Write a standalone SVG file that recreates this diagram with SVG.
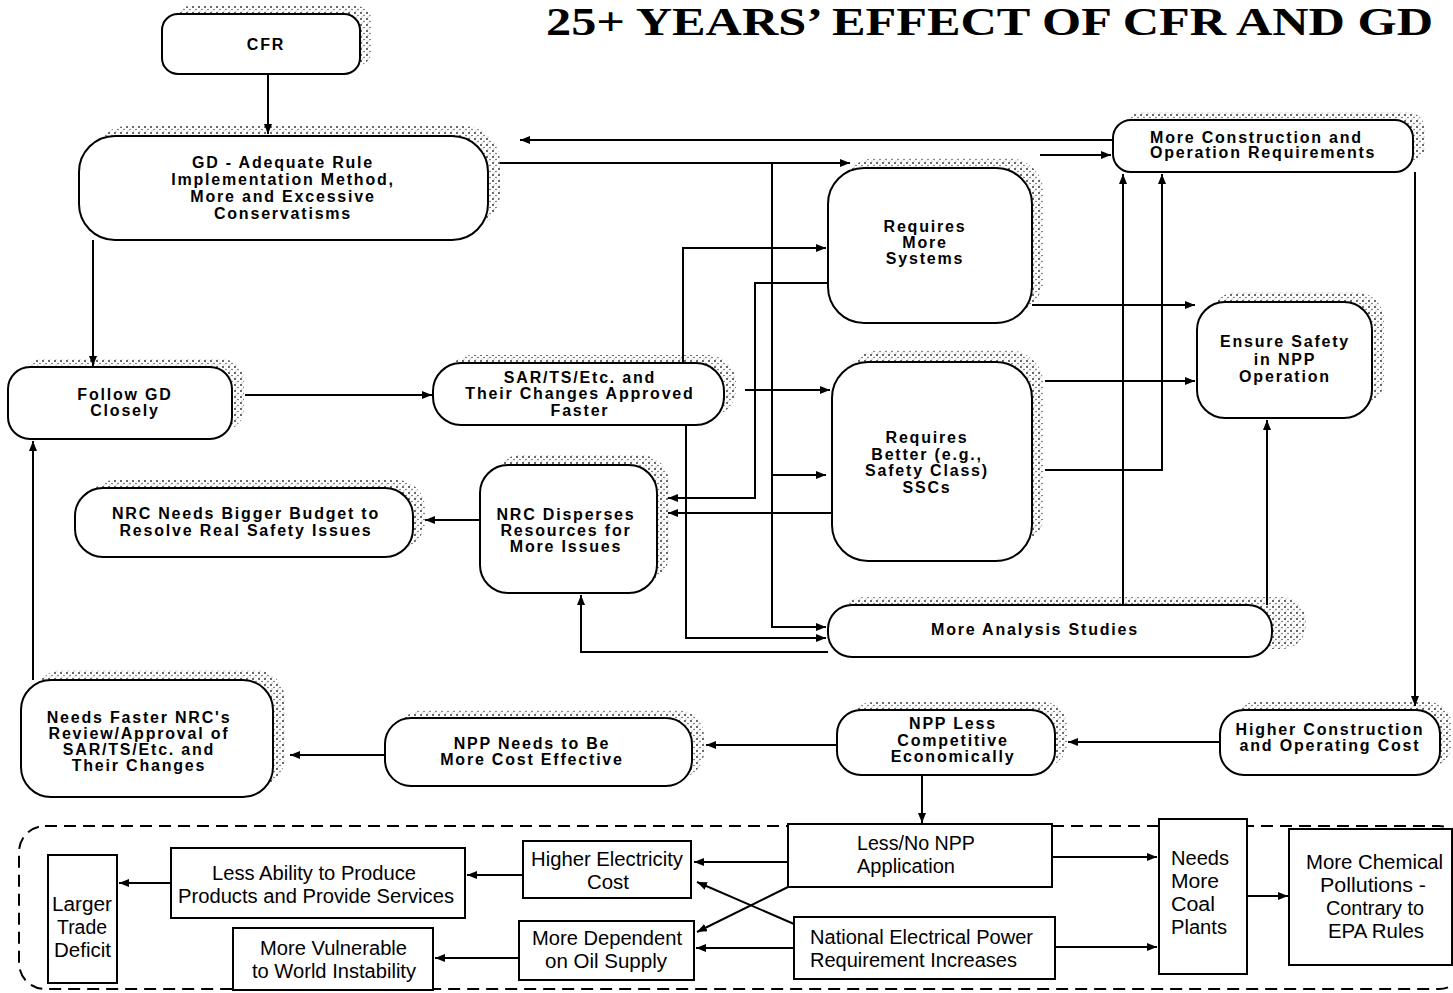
<svg xmlns="http://www.w3.org/2000/svg" width="1453" height="993" viewBox="0 0 1453 993">
<defs>
<pattern id="st" width="6" height="6" patternUnits="userSpaceOnUse">
<rect width="6" height="6" fill="#fff"/>
<circle cx="1" cy="1" r="0.9" fill="#222"/>
<circle cx="4" cy="3.5" r="0.8" fill="#555"/>
<circle cx="2" cy="5" r="0.6" fill="#888"/>
</pattern>
<marker id="a" viewBox="0 0 10 8" refX="10" refY="4" markerWidth="10" markerHeight="8" markerUnits="userSpaceOnUse" orient="auto">
<path d="M0,0 L10,4 L0,8 Z" fill="#000"/>
</marker>
<style>
.sh{fill:url(#st);stroke:none}
.nd{fill:#fff;stroke:#000;stroke-width:2}
.bx{fill:#fff;stroke:#000;stroke-width:2}
.t{font-family:"Liberation Sans",Arial,sans-serif;font-size:16px;font-weight:bold;letter-spacing:1.8px;text-anchor:middle;fill:#000}
.tl{text-anchor:start}
.c{font-family:"Liberation Sans",Arial,sans-serif;font-size:19.5px;fill:#000}
.cn path{fill:none;stroke:#000;stroke-width:2;marker-end:url(#a)}
.title{font-family:"Liberation Serif","Times New Roman",serif;font-size:40px;font-weight:bold;fill:#000}
</style>
</defs>
<rect width="1453" height="993" fill="#fff"/>
<text class="title" x="546" y="35" textLength="887" lengthAdjust="spacingAndGlyphs">25+ YEARS’ EFFECT OF CFR AND GD</text>

<g id="cfr">
<rect class="sh" x="174" y="6" width="198" height="60" rx="16"/>
<rect class="nd" x="162" y="14" width="198" height="60" rx="16"/>
<text class="t" x="266" y="50">CFR</text>
</g>
<g id="gd">
<rect class="sh" x="91" y="126" width="409" height="104" rx="36"/>
<rect class="nd" x="79" y="136" width="409" height="104" rx="36"/>
<text class="t" x="283" y="168">GD - Adequate Rule</text>
<text class="t" x="283" y="185">Implementation Method,</text>
<text class="t" x="283" y="202">More and Excessive</text>
<text class="t" x="283" y="219">Conservatisms</text>
</g>
<g id="req-systems">
<rect class="sh" x="840" y="158" width="204" height="155" rx="36"/>
<rect class="nd" x="828" y="168" width="204" height="155" rx="36"/>
<text class="t" x="925" y="232">Requires</text>
<text class="t" x="925" y="248">More</text>
<text class="t" x="925" y="264">Systems</text>
</g>
<g id="more-construction">
<rect class="sh" x="1125" y="112" width="300" height="52" rx="18"/>
<rect class="nd" x="1113" y="120" width="300" height="52" rx="18"/>
<text class="t tl" x="1150" y="143">More Construction and</text>
<text class="t tl" x="1150" y="158">Operation Requirements</text>
</g>
<g id="ensure-safety">
<rect class="sh" x="1209" y="292" width="175" height="116" rx="28"/>
<rect class="nd" x="1197" y="302" width="175" height="116" rx="28"/>
<text class="t" x="1285" y="347">Ensure Safety</text>
<text class="t" x="1285" y="365">in NPP</text>
<text class="t" x="1285" y="382">Operation</text>
</g>
<g id="follow-gd">
<rect class="sh" x="20" y="359" width="224" height="72" rx="22"/>
<rect class="nd" x="8" y="367" width="224" height="72" rx="22"/>
<text class="t" x="125" y="400">Follow GD</text>
<text class="t" x="125" y="416">Closely</text>
</g>
<g id="sar">
<rect class="sh" x="445" y="355" width="291" height="62" rx="28"/>
<rect class="nd" x="433" y="363" width="291" height="62" rx="28"/>
<text class="t" x="580" y="383">SAR/TS/Etc. and</text>
<text class="t" x="580" y="399">Their Changes Approved</text>
<text class="t" x="580" y="416">Faster</text>
</g>
<g id="req-better">
<rect class="sh" x="844" y="350" width="200" height="199" rx="36"/>
<rect class="nd" x="832" y="362" width="200" height="199" rx="36"/>
<text class="t" x="927" y="443">Requires</text>
<text class="t" x="927" y="460">Better (e.g.,</text>
<text class="t" x="927" y="476">Safety Class)</text>
<text class="t" x="927" y="493">SSCs</text>
</g>
<g id="nrc-budget">
<rect class="sh" x="87" y="480" width="338" height="69" rx="28"/>
<rect class="nd" x="75" y="488" width="338" height="69" rx="28"/>
<text class="t" x="246" y="519">NRC Needs Bigger Budget to</text>
<text class="t" x="246" y="536">Resolve Real Safety Issues</text>
</g>
<g id="nrc-disperses">
<rect class="sh" x="492" y="455" width="177" height="128" rx="28"/>
<rect class="nd" x="480" y="465" width="177" height="128" rx="28"/>
<text class="t" x="566" y="520">NRC Disperses</text>
<text class="t" x="566" y="536">Resources for</text>
<text class="t" x="566" y="552">More Issues</text>
</g>
<g id="more-analysis">
<rect class="sh" x="840" y="597" width="466" height="52" rx="24"/>
<rect class="nd" x="828" y="605" width="444" height="52" rx="24"/>
<text class="t" x="1035" y="635">More Analysis Studies</text>
</g>
<g id="needs-faster">
<rect class="sh" x="33" y="670" width="252" height="117" rx="30"/>
<rect class="nd" x="21" y="680" width="252" height="117" rx="30"/>
<text class="t" x="139" y="723">Needs Faster NRC's</text>
<text class="t" x="139" y="739">Review/Approval of</text>
<text class="t" x="139" y="755">SAR/TS/Etc. and</text>
<text class="t" x="139" y="771">Their Changes</text>
</g>
<g id="npp-needs">
<rect class="sh" x="397" y="710" width="307" height="68" rx="26"/>
<rect class="nd" x="385" y="718" width="307" height="68" rx="26"/>
<text class="t" x="532" y="749">NPP Needs to Be</text>
<text class="t" x="532" y="765">More Cost Effective</text>
</g>
<g id="npp-less">
<rect class="sh" x="849" y="702" width="218" height="65" rx="24"/>
<rect class="nd" x="837" y="710" width="218" height="65" rx="24"/>
<text class="t" x="953" y="729">NPP Less</text>
<text class="t" x="953" y="746">Competitive</text>
<text class="t" x="953" y="762">Economically</text>
</g>
<g id="higher-construction">
<rect class="sh" x="1232" y="702" width="220" height="65" rx="24"/>
<rect class="nd" x="1220" y="710" width="220" height="65" rx="24"/>
<text class="t" x="1330" y="735">Higher Construction</text>
<text class="t" x="1330" y="751">and Operating Cost</text>
</g>

<g id="consequences-frame">
<rect x="19" y="826" width="1446" height="163" rx="26" fill="none" stroke="#000" stroke-width="2" stroke-dasharray="12 7"/>
</g>
<g id="less-no-npp">
<rect class="bx" x="788" y="824" width="264" height="63"/>
<text class="c" x="857" y="850" textLength="118" lengthAdjust="spacingAndGlyphs">Less/No NPP</text>
<text class="c" x="857" y="873" textLength="98" lengthAdjust="spacingAndGlyphs">Application</text>
</g>
<g id="higher-electricity">
<rect class="bx" x="523" y="841" width="168" height="57"/>
<text class="c" x="531" y="866" textLength="152" lengthAdjust="spacingAndGlyphs">Higher Electricity</text>
<text class="c" x="587" y="889" textLength="42" lengthAdjust="spacingAndGlyphs">Cost</text>
</g>
<g id="less-ability">
<rect class="bx" x="171" y="848" width="294" height="70"/>
<text class="c" x="212" y="880" textLength="204" lengthAdjust="spacingAndGlyphs">Less Ability to Produce</text>
<text class="c" x="178" y="903" textLength="276" lengthAdjust="spacingAndGlyphs">Products and Provide Services</text>
</g>
<g id="trade-deficit">
<rect class="bx" x="48" y="855" width="69" height="128"/>
<text class="c" x="52" y="911" textLength="60" lengthAdjust="spacingAndGlyphs">Larger</text>
<text class="c" x="57" y="934" textLength="50" lengthAdjust="spacingAndGlyphs">Trade</text>
<text class="c" x="54" y="957" textLength="57" lengthAdjust="spacingAndGlyphs">Deficit</text>
</g>
<g id="oil-supply">
<rect class="bx" x="519" y="921" width="175" height="59"/>
<text class="c" x="532" y="945" textLength="150" lengthAdjust="spacingAndGlyphs">More Dependent</text>
<text class="c" x="545" y="968" textLength="122" lengthAdjust="spacingAndGlyphs">on Oil Supply</text>
</g>
<g id="vulnerable">
<rect class="bx" x="233" y="928" width="200" height="62"/>
<text class="c" x="260" y="955" textLength="147" lengthAdjust="spacingAndGlyphs">More Vulnerable</text>
<text class="c" x="252" y="978" textLength="164" lengthAdjust="spacingAndGlyphs">to World Instability</text>
</g>
<g id="power-requirement">
<rect class="bx" x="794" y="917" width="261" height="62"/>
<text class="c" x="810" y="944" textLength="223" lengthAdjust="spacingAndGlyphs">National Electrical Power</text>
<text class="c" x="810" y="967" textLength="207" lengthAdjust="spacingAndGlyphs">Requirement Increases</text>
</g>
<g id="coal-plants">
<rect class="bx" x="1159" y="819" width="88" height="155"/>
<text class="c" x="1171" y="865" textLength="58" lengthAdjust="spacingAndGlyphs">Needs</text>
<text class="c" x="1171" y="888" textLength="48" lengthAdjust="spacingAndGlyphs">More</text>
<text class="c" x="1171" y="911" textLength="44" lengthAdjust="spacingAndGlyphs">Coal</text>
<text class="c" x="1171" y="934" textLength="56" lengthAdjust="spacingAndGlyphs">Plants</text>
</g>
<g id="chemical-pollutions">
<rect class="bx" x="1289" y="829" width="163" height="136"/>
<text class="c" x="1306" y="869" textLength="137" lengthAdjust="spacingAndGlyphs">More Chemical</text>
<text class="c" x="1320" y="892" textLength="106" lengthAdjust="spacingAndGlyphs">Pollutions -</text>
<text class="c" x="1326" y="915" textLength="98" lengthAdjust="spacingAndGlyphs">Contrary to</text>
<text class="c" x="1328" y="938" textLength="96" lengthAdjust="spacingAndGlyphs">EPA Rules</text>
</g>

<g id="connectors" class="cn">
<path d="M268,74 V134"/>
<path d="M1113,140 H520"/>
<path d="M500,163 H850"/>
<path d="M772,163 V627 H826"/>
<path d="M772,475 H826"/>
<path d="M1040,155 H1111"/>
<path d="M683,363 V248 H826"/>
<path d="M828,283 H755 V498 H668"/>
<path d="M832,513 H668"/>
<path d="M745,390 H830"/>
<path d="M686,425 V638 H826"/>
<path d="M828,652 H581 V595"/>
<path d="M1032,305 H1195"/>
<path d="M1045,381 H1195"/>
<path d="M1045,470 H1162 V174"/>
<path d="M1123,605 V174"/>
<path d="M1267,605 V420"/>
<path d="M1415,172 V706"/>
<path d="M1220,742 H1068"/>
<path d="M837,745 H706"/>
<path d="M385,755 H290"/>
<path d="M33,680 V441"/>
<path d="M93,240 V366"/>
<path d="M245,395 H432"/>
<path d="M480,520 H425"/>
<path d="M922,775 V823"/>
<path d="M788,862 H694"/>
<path d="M1052,857 H1157"/>
<path d="M794,948 H696"/>
<path d="M1055,947 H1157"/>
<path d="M788,887 L697,932"/>
<path d="M794,924 L697,882"/>
<path d="M523,875 H467"/>
<path d="M171,883 H119"/>
<path d="M519,958 H435"/>
<path d="M1247,896 H1288"/>
</g>
</svg>
